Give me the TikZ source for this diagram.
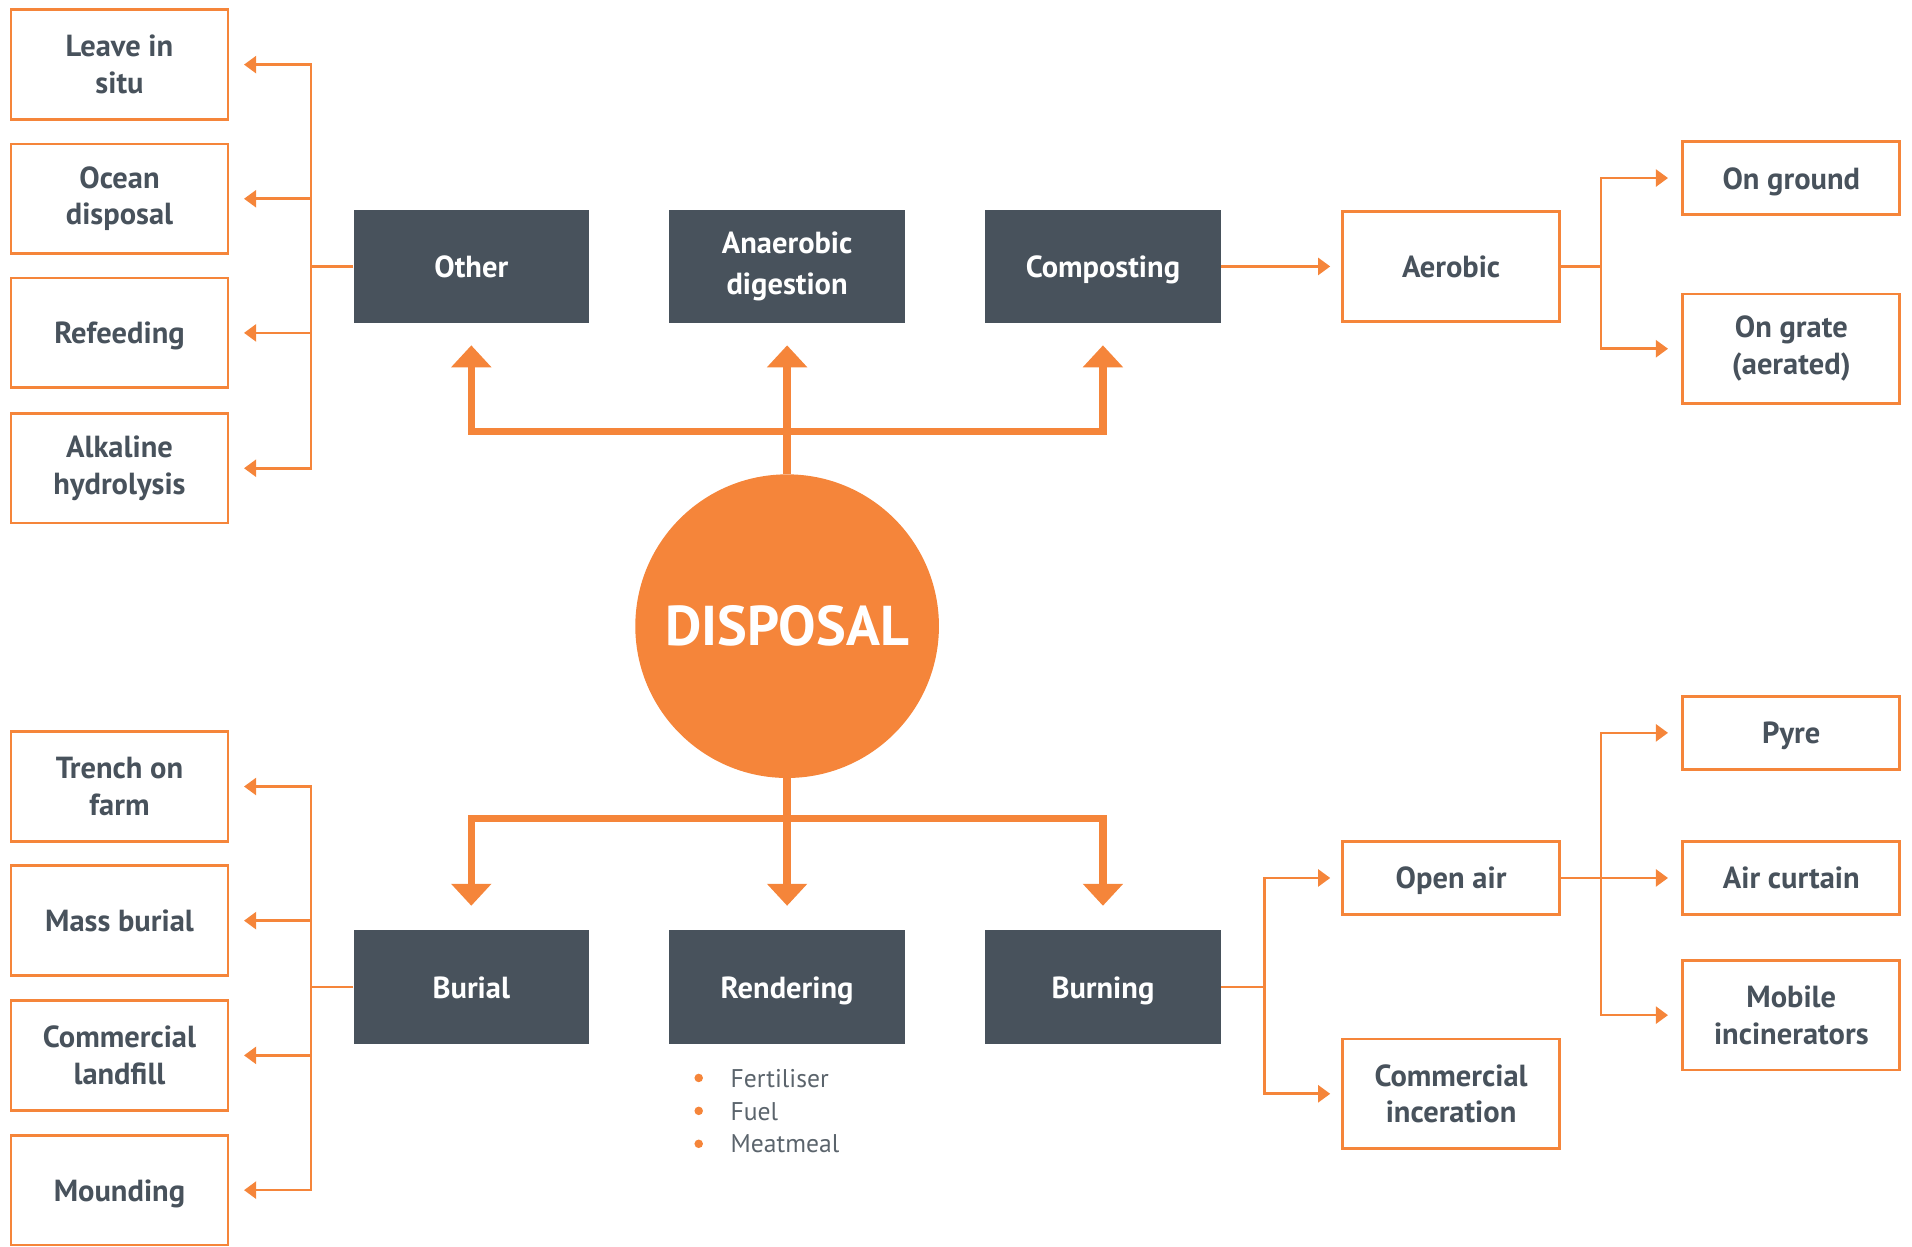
\documentclass[tikz,border=0pt]{standalone}
\usepackage{fontspec}
\setmainfont{PT Sans}
\usetikzlibrary{arrows.meta}
\definecolor{org}{HTML}{F5853A}
\definecolor{slate}{HTML}{48525C}
\definecolor{bultxt}{HTML}{5B646C}
\begin{document}
\begin{tikzpicture}[x=1pt,y=-1pt,
  obox/.style={draw=org, line width=2.2pt, fill=white, minimum width=178pt, minimum height=90pt, text=slate, font=\bfseries\fontsize{25}{30}\selectfont, align=center, inner sep=0pt},
  sbox/.style={obox, minimum height=60pt},
  dbox/.style={fill=slate, minimum width=193pt, minimum height=93pt, text=white, font=\bfseries\fontsize{25}{33}\selectfont, align=center, inner sep=0pt},
  oneline/.style={text height=18pt, text depth=0pt},
  oline/.style={draw=org, line width=2.2pt},
  oarrow/.style={oline, -{Triangle[length=10pt,width=14pt]}},
  tline/.style={draw=org, line width=6pt},
  tarrow/.style={tline, -{Triangle[length=18pt,width=32pt]}},
  bul/.style={circle, fill=org, minimum size=7pt, inner sep=0pt},
  bultext/.style={anchor=west, text=bultxt, font=\fontsize{21}{24}\selectfont, inner sep=0pt, text height=15pt, text depth=0pt}
]
\useasboundingbox (0,0) rectangle (1568,1022);

% centre
\node[circle, fill=org, minimum size=249pt, inner sep=0pt, text=white, font=\bfseries\fontsize{46}{50}\selectfont] (circ) at (645.5,513.5) {DISPOSAL};

% dark boxes
\node[dbox, oneline] (other) at (386.5,218.5) {Other};
\node[dbox] (anaer) at (645.5,218.5) {Anaerobic\\digestion};
\node[dbox, oneline] (comp) at (904.5,218.5) {Composting};
\node[dbox, oneline] (burial) at (386.5,809.5) {Burial};
\node[dbox, oneline] (rend) at (645.5,809.5) {Rendering};
\node[dbox, oneline] (burn) at (904.5,809.5) {Burning};

% left top boxes
\node[obox] (leave) at (98,53) {Leave in\\situ};
\node[obox] (ocean) at (98,163) {Ocean\\disposal};
\node[obox, oneline] (refeed) at (98,273) {Refeeding};
\node[obox] (alk) at (98,384) {Alkaline\\hydrolysis};

% left bottom boxes
\node[obox] (trench) at (98,645) {Trench on\\farm};
\node[obox, oneline] (mass) at (98,755) {Mass burial};
\node[obox] (landfill) at (98,865.5) {Commercial\\landfill};
\node[obox, oneline] (mound) at (98,976) {Mounding};

% right boxes
\node[obox, oneline] (aerobic) at (1190,218.5) {Aerobic};
\node[sbox, oneline] (ground) at (1469,146) {On ground};
\node[obox] (grate) at (1469,286) {On grate\\(aerated)};
\node[sbox, oneline] (openair) at (1190,720) {Open air};
\node[obox] (commer) at (1190,897) {Commercial\\inceration};
\node[sbox, oneline] (pyre) at (1469,601) {Pyre};
\node[sbox, oneline] (curtain) at (1469,720) {Air curtain};
\node[obox] (mobile) at (1469,832.5) {Mobile\\incinerators};

% bullets
\node[bul] (b1) at (573,884) {};
\node[bul] (b2) at (573,911) {};
\node[bul] (b3) at (573,938) {};
\node[bultext] (t1) at (599,884) {Fertiliser};
\node[bultext] (t2) at (599,911) {Fuel};
\node[bultext] (t3) at (599,938) {Meatmeal};

% thick trees
\coordinate (hubT) at (645.5,354);
\coordinate (hubB) at (645.5,671);
\draw[tline] (circ.north) -- (hubT);
\draw[tarrow, shorten >=18pt] (hubT) -| (other.south);
\draw[tarrow, shorten >=18pt] (hubT) -| (comp.south);
\draw[tarrow, shorten >=18pt] (hubT) -- (anaer.south);
\draw[tline] (circ.south) -- (hubB);
\draw[tarrow, shorten >=20pt] (hubB) -| (burial.north);
\draw[tarrow, shorten >=20pt] (hubB) -| (burn.north);
\draw[tarrow, shorten >=20pt] (hubB) -- (rend.north);

% left top tree
\coordinate (busL) at (255,218.5);
\draw[oline] (other.west) -- (busL);
\foreach \n in {leave,ocean,refeed,alk}{
  \draw[oarrow, shorten >=12pt] (busL) |- (\n.east);
}
% left bottom tree
\coordinate (busLB) at (255,809.5);
\draw[oline] (burial.west) -- (busLB);
\foreach \n in {trench,mass,landfill,mound}{
  \draw[oarrow, shorten >=12pt] (busLB) |- (\n.east);
}

% right top
\draw[oarrow, shorten >=9pt] (comp.east) -- (aerobic.west);
\coordinate (busA) at (1313,218.5);
\draw[oline] (aerobic.east) -- (busA);
\draw[oarrow, shorten >=11pt] (busA) |- (ground.west);
\draw[oarrow, shorten >=11pt] (busA) |- (grate.west);

% right bottom
\coordinate (busB) at (1037,809.5);
\draw[oline] (burn.east) -- (busB);
\draw[oarrow, shorten >=9pt] (busB) |- (openair.west);
\draw[oarrow, shorten >=9pt] (busB) |- (commer.west);
\coordinate (busO) at (1313,720);
\draw[oarrow, shorten >=11pt] (openair.east) -- (curtain.west);
\draw[oarrow, shorten >=11pt] (busO) |- (pyre.west);
\draw[oarrow, shorten >=11pt] (busO) |- (mobile.west);
\end{tikzpicture}
\end{document}
